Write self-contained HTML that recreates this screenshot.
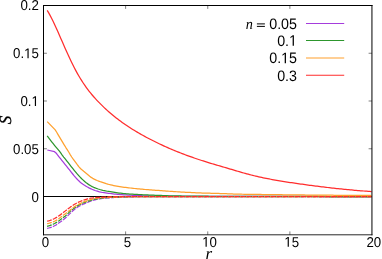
<!DOCTYPE html><html><head><title>S vs r</title><meta charset="utf-8"><style>html,body{margin:0;padding:0;background:#fff}svg{display:block;will-change:transform;opacity:0.999}text{font-family:"Liberation Sans",sans-serif;fill:#000;text-rendering:geometricPrecision}.it{font-family:"Liberation Serif",serif;font-style:italic}</style></head><body>
<svg width="382" height="259" viewBox="0 0 382 259">
<rect width="382" height="259" fill="#fff"/>
<path d="M43.5,196.5 H372.0" stroke="#000" stroke-width="1" fill="none"/>
<path d="M47.30,150.00 L54.50,151.70 L56.00,152.99 L57.50,154.97 L59.00,156.84 L60.50,158.72 L62.00,160.60 L63.50,162.45 L65.00,164.31 L66.50,166.18 L68.00,168.07 L69.50,169.97 L71.00,171.87 L72.50,173.75 L74.00,175.61 L75.50,177.38 L77.00,179.02 L78.50,180.57 L80.00,181.95 L81.50,183.20 L83.00,184.32 L84.50,185.31 L86.00,186.20 L87.50,187.05 L89.00,187.85 L90.50,188.59 L92.00,189.29 L93.50,189.92 L95.00,190.47 L96.50,190.97 L98.00,191.42 L99.50,191.85 L101.00,192.22 L102.50,192.50 L104.00,192.72 L105.50,192.93 L107.00,193.13 L108.50,193.32 L110.00,193.50 L111.50,193.67 L113.00,193.84 L114.50,194.01 L116.00,194.17 L117.50,194.32 L119.00,194.45 L120.50,194.57 L122.00,194.68 L123.50,194.79 L125.00,194.89 L126.50,194.99 L128.00,195.08 L129.50,195.17 L131.00,195.25 L132.50,195.33 L134.00,195.40 L135.50,195.47 L137.00,195.54 L138.50,195.60 L140.00,195.66 L141.50,195.72 L143.00,195.77 L144.50,195.82 L146.00,195.86 L147.50,195.91 L149.00,195.96 L150.50,196.01 L152.00,196.05 L153.50,196.09 L155.00,196.12 L156.50,196.16 L158.00,196.18 L159.50,196.20 L161.00,196.21 L162.50,196.22 L164.00,196.22 L165.50,196.23 L167.00,196.24 L168.50,196.24 L170.00,196.25 L171.50,196.25 L173.00,196.26 L174.50,196.26 L176.00,196.26 L177.50,196.27 L179.00,196.27 L180.50,196.28 L182.00,196.28 L183.50,196.29 L185.00,196.29 L186.50,196.30 L188.00,196.30 L189.50,196.31 L191.00,196.31 L192.50,196.32 L194.00,196.32 L195.50,196.33 L197.00,196.33 L198.50,196.34 L200.00,196.34 L201.50,196.34 L203.00,196.35 L204.50,196.35 L206.00,196.36 L207.50,196.36 L209.00,196.36 L210.50,196.37 L212.00,196.37 L213.50,196.37 L215.00,196.38 L216.50,196.38 L218.00,196.39 L219.50,196.39 L221.00,196.39 L222.50,196.40 L224.00,196.40 L225.50,196.40 L227.00,196.40 L228.50,196.41 L230.00,196.41 L231.50,196.41 L233.00,196.42 L234.50,196.42 L236.00,196.42 L237.50,196.42 L239.00,196.43 L240.50,196.43 L242.00,196.43 L243.50,196.43 L245.00,196.44 L246.50,196.44 L248.00,196.44 L249.50,196.44 L251.00,196.44 L252.50,196.45 L254.00,196.45 L255.50,196.45 L257.00,196.45 L258.50,196.45 L260.00,196.46 L261.50,196.46 L263.00,196.46 L264.50,196.46 L266.00,196.46 L267.50,196.46 L269.00,196.47 L270.50,196.47 L272.00,196.47 L273.50,196.47 L275.00,196.47 L276.50,196.47 L278.00,196.47 L279.50,196.48 L281.00,196.48 L282.50,196.48 L284.00,196.48 L285.50,196.48 L287.00,196.48 L288.50,196.48 L290.00,196.48 L291.50,196.48 L293.00,196.48 L294.50,196.49 L296.00,196.49 L297.50,196.49 L299.00,196.49 L300.50,196.49 L302.00,196.49 L303.50,196.49 L305.00,196.49 L306.50,196.49 L308.00,196.49 L309.50,196.49 L311.00,196.49 L312.50,196.49 L314.00,196.49 L315.50,196.49 L317.00,196.49 L318.50,196.50 L320.00,196.50 L321.50,196.50 L323.00,196.50 L324.50,196.50 L326.00,196.50 L327.50,196.50 L329.00,196.50 L330.50,196.50 L332.00,196.50 L333.50,196.50 L335.00,196.50 L336.50,196.50 L338.00,196.50 L339.50,196.50 L341.00,196.50 L342.50,196.50 L344.00,196.50 L345.50,196.50 L347.00,196.50 L348.50,196.50 L350.00,196.50 L351.50,196.50 L353.00,196.50 L354.50,196.50 L356.00,196.50 L357.50,196.50 L359.00,196.50 L360.50,196.50 L362.00,196.50 L363.50,196.50 L365.00,196.50 L366.50,196.50 L368.00,196.50 L369.50,196.50 L371.00,196.50 L371.60,196.50" stroke="#a53cdc" stroke-width="1.25" fill="none" stroke-linejoin="round"/>
<path d="M47.10,228.40 L48.60,228.01 L50.10,227.55 L51.60,227.04 L53.10,226.47 L54.60,225.80 L56.10,224.94 L57.60,223.89 L59.10,222.85 L60.60,221.81 L62.10,220.72 L63.60,219.53 L65.10,218.24 L66.60,216.87 L68.10,215.42 L69.60,213.89 L71.10,212.42 L72.60,210.98 L74.10,209.69 L75.60,208.54 L77.10,207.49 L78.60,206.56 L80.10,205.72 L81.60,204.95 L83.10,204.28 L84.60,203.65 L86.10,203.01 L87.60,202.36 L89.10,201.73 L90.60,201.17 L92.10,200.65 L93.60,200.20 L95.10,199.81 L96.60,199.47 L98.10,199.16 L99.60,198.87 L101.10,198.63 L102.60,198.44 L104.10,198.28 L105.60,198.14 L107.10,198.00 L108.60,197.87 L110.10,197.74 L111.60,197.62 L113.10,197.51 L114.60,197.42 L116.10,197.34 L117.60,197.27 L119.10,197.20 L120.60,197.14 L122.10,197.08 L123.60,197.02 L125.10,196.97 L126.60,196.93 L128.10,196.89 L129.60,196.86 L131.10,196.83 L132.60,196.80 L134.10,196.77 L135.60,196.75 L137.10,196.73 L138.60,196.70 L140.10,196.68 L141.60,196.66 L143.10,196.65 L144.60,196.63 L146.10,196.62 L147.60,196.61 L149.10,196.60 L150.60,196.60 L152.10,196.60 L153.60,196.59 L155.10,196.59 L156.60,196.59 L158.10,196.59 L159.60,196.59 L161.10,196.58 L162.60,196.58 L164.10,196.58 L165.60,196.58 L167.10,196.58 L168.60,196.58 L170.10,196.58 L171.60,196.57 L173.10,196.57 L174.60,196.57 L176.10,196.57 L177.60,196.57 L179.10,196.57 L180.60,196.56 L182.10,196.56 L183.60,196.56 L185.10,196.56 L186.60,196.56 L188.10,196.56 L189.60,196.56 L191.10,196.55 L192.60,196.55 L194.10,196.55 L195.60,196.55 L197.10,196.55 L198.60,196.55 L200.10,196.55 L201.60,196.55 L203.10,196.54 L204.60,196.54 L206.10,196.54 L207.60,196.54 L209.10,196.54 L210.60,196.54 L212.10,196.54 L213.60,196.54 L215.10,196.54 L216.60,196.53 L218.10,196.53 L219.60,196.53 L221.10,196.53 L222.60,196.53 L224.10,196.53 L225.60,196.53 L227.10,196.53 L228.60,196.53 L230.10,196.53 L231.60,196.53 L233.10,196.52 L234.60,196.52 L236.10,196.52 L237.60,196.52 L239.10,196.52 L240.60,196.52 L242.10,196.52 L243.60,196.52 L245.10,196.52 L246.60,196.52 L248.10,196.52 L249.60,196.52 L251.10,196.52 L252.60,196.52 L254.10,196.51 L255.60,196.51 L257.10,196.51 L258.60,196.51 L260.10,196.51 L261.60,196.51 L263.10,196.51 L264.60,196.51 L266.10,196.51 L267.60,196.51 L269.10,196.51 L270.60,196.51 L272.10,196.51 L273.60,196.51 L275.10,196.51 L276.60,196.51 L278.10,196.51 L279.60,196.51 L281.10,196.51 L282.60,196.51 L284.10,196.51 L285.60,196.51 L287.10,196.51 L288.60,196.51 L290.10,196.50 L291.60,196.50 L293.10,196.50 L294.60,196.50 L296.10,196.50 L297.60,196.50 L299.10,196.50 L300.60,196.50 L302.10,196.50 L303.60,196.50 L305.10,196.50 L306.60,196.50 L308.10,196.50 L309.60,196.50 L311.10,196.50 L312.60,196.50 L314.10,196.50 L315.60,196.50 L317.10,196.50 L318.60,196.50 L320.10,196.50 L321.60,196.50 L323.10,196.50 L324.60,196.50 L326.10,196.50 L327.60,196.50 L329.10,196.50 L330.60,196.50 L332.10,196.50 L333.60,196.50 L335.10,196.50 L336.60,196.50 L338.10,196.50 L339.60,196.50 L341.10,196.50 L342.60,196.50 L344.10,196.50 L345.60,196.50 L347.10,196.50 L348.60,196.50 L350.10,196.50 L351.60,196.50 L353.10,196.50 L354.60,196.50 L356.10,196.50 L357.60,196.50 L359.10,196.50 L360.60,196.50 L362.10,196.50 L363.60,196.50 L365.10,196.50 L366.60,196.50 L368.10,196.50 L369.60,196.50 L371.10,196.50 L371.60,196.50" stroke="#a53cdc" stroke-width="1.25" fill="none" stroke-dasharray="4.85,1.2"/>
<path d="M47.20,135.90 L48.70,137.90 L50.20,139.86 L51.70,141.79 L53.20,143.70 L54.70,145.56 L56.20,147.34 L57.70,149.11 L59.20,150.93 L60.70,152.92 L62.20,155.04 L63.70,157.05 L65.20,158.94 L66.70,160.82 L68.20,162.72 L69.70,164.63 L71.20,166.53 L72.70,168.43 L74.20,170.30 L75.70,172.12 L77.20,173.89 L78.70,175.58 L80.20,177.20 L81.70,178.70 L83.20,180.12 L84.70,181.50 L86.20,182.76 L87.70,183.87 L89.20,184.87 L90.70,185.77 L92.20,186.58 L93.70,187.30 L95.20,187.92 L96.70,188.48 L98.20,189.01 L99.70,189.50 L101.20,189.95 L102.70,190.33 L104.20,190.67 L105.70,190.98 L107.20,191.25 L108.70,191.49 L110.20,191.73 L111.70,191.97 L113.20,192.21 L114.70,192.44 L116.20,192.66 L117.70,192.87 L119.20,193.05 L120.70,193.22 L122.20,193.38 L123.70,193.53 L125.20,193.67 L126.70,193.80 L128.20,193.93 L129.70,194.04 L131.20,194.15 L132.70,194.24 L134.20,194.33 L135.70,194.41 L137.20,194.49 L138.70,194.56 L140.20,194.63 L141.70,194.70 L143.20,194.76 L144.70,194.83 L146.20,194.90 L147.70,194.97 L149.20,195.03 L150.70,195.09 L152.20,195.15 L153.70,195.21 L155.20,195.27 L156.70,195.33 L158.20,195.38 L159.70,195.44 L161.20,195.49 L162.70,195.55 L164.20,195.60 L165.70,195.65 L167.20,195.70 L168.70,195.75 L170.20,195.79 L171.70,195.83 L173.20,195.86 L174.70,195.89 L176.20,195.92 L177.70,195.95 L179.20,195.97 L180.70,195.99 L182.20,196.02 L183.70,196.04 L185.20,196.06 L186.70,196.08 L188.20,196.09 L189.70,196.11 L191.20,196.13 L192.70,196.14 L194.20,196.15 L195.70,196.17 L197.20,196.18 L198.70,196.19 L200.20,196.20 L201.70,196.21 L203.20,196.22 L204.70,196.23 L206.20,196.24 L207.70,196.24 L209.20,196.25 L210.70,196.26 L212.20,196.26 L213.70,196.27 L215.20,196.27 L216.70,196.28 L218.20,196.29 L219.70,196.29 L221.20,196.30 L222.70,196.30 L224.20,196.31 L225.70,196.32 L227.20,196.32 L228.70,196.33 L230.20,196.33 L231.70,196.34 L233.20,196.34 L234.70,196.35 L236.20,196.35 L237.70,196.36 L239.20,196.36 L240.70,196.37 L242.20,196.37 L243.70,196.38 L245.20,196.38 L246.70,196.38 L248.20,196.39 L249.70,196.39 L251.20,196.40 L252.70,196.40 L254.20,196.40 L255.70,196.41 L257.20,196.41 L258.70,196.41 L260.20,196.42 L261.70,196.42 L263.20,196.42 L264.70,196.43 L266.20,196.43 L267.70,196.43 L269.20,196.44 L270.70,196.44 L272.20,196.44 L273.70,196.44 L275.20,196.45 L276.70,196.45 L278.20,196.45 L279.70,196.45 L281.20,196.46 L282.70,196.46 L284.20,196.46 L285.70,196.46 L287.20,196.46 L288.70,196.47 L290.20,196.47 L291.70,196.47 L293.20,196.47 L294.70,196.47 L296.20,196.47 L297.70,196.48 L299.20,196.48 L300.70,196.48 L302.20,196.48 L303.70,196.48 L305.20,196.48 L306.70,196.48 L308.20,196.48 L309.70,196.49 L311.20,196.49 L312.70,196.49 L314.20,196.49 L315.70,196.49 L317.20,196.49 L318.70,196.49 L320.20,196.49 L321.70,196.49 L323.20,196.49 L324.70,196.49 L326.20,196.49 L327.70,196.50 L329.20,196.50 L330.70,196.50 L332.20,196.50 L333.70,196.50 L335.20,196.50 L336.70,196.50 L338.20,196.50 L339.70,196.50 L341.20,196.50 L342.70,196.50 L344.20,196.50 L345.70,196.50 L347.20,196.50 L348.70,196.50 L350.20,196.50 L351.70,196.50 L353.20,196.50 L354.70,196.50 L356.20,196.50 L357.70,196.50 L359.20,196.50 L360.70,196.50 L362.20,196.50 L363.70,196.50 L365.20,196.50 L366.70,196.50 L368.20,196.50 L369.70,196.50 L371.20,196.50 L371.60,196.50" stroke="#2d962d" stroke-width="1.25" fill="none" stroke-linejoin="round"/>
<path d="M47.10,226.30 L48.60,225.88 L50.10,225.39 L51.60,224.84 L53.10,224.22 L54.60,223.51 L56.10,222.66 L57.60,221.67 L59.10,220.66 L60.60,219.60 L62.10,218.50 L63.60,217.36 L65.10,216.17 L66.60,214.85 L68.10,213.35 L69.60,211.89 L71.10,210.59 L72.60,209.37 L74.10,208.22 L75.60,207.11 L77.10,206.09 L78.60,205.19 L80.10,204.38 L81.60,203.66 L83.10,203.02 L84.60,202.43 L86.10,201.86 L87.60,201.31 L89.10,200.79 L90.60,200.32 L92.10,199.89 L93.60,199.50 L95.10,199.16 L96.60,198.85 L98.10,198.58 L99.60,198.33 L101.10,198.12 L102.60,197.97 L104.10,197.84 L105.60,197.73 L107.10,197.63 L108.60,197.53 L110.10,197.44 L111.60,197.36 L113.10,197.28 L114.60,197.22 L116.10,197.16 L117.60,197.10 L119.10,197.04 L120.60,196.98 L122.10,196.92 L123.60,196.87 L125.10,196.83 L126.60,196.80 L128.10,196.77 L129.60,196.75 L131.10,196.74 L132.60,196.74 L134.10,196.73 L135.60,196.73 L137.10,196.72 L138.60,196.72 L140.10,196.72 L141.60,196.71 L143.10,196.71 L144.60,196.71 L146.10,196.70 L147.60,196.70 L149.10,196.70 L150.60,196.69 L152.10,196.69 L153.60,196.68 L155.10,196.68 L156.60,196.68 L158.10,196.67 L159.60,196.67 L161.10,196.67 L162.60,196.66 L164.10,196.66 L165.60,196.65 L167.10,196.65 L168.60,196.65 L170.10,196.65 L171.60,196.64 L173.10,196.64 L174.60,196.64 L176.10,196.63 L177.60,196.63 L179.10,196.63 L180.60,196.62 L182.10,196.62 L183.60,196.62 L185.10,196.61 L186.60,196.61 L188.10,196.61 L189.60,196.61 L191.10,196.60 L192.60,196.60 L194.10,196.60 L195.60,196.60 L197.10,196.59 L198.60,196.59 L200.10,196.59 L201.60,196.59 L203.10,196.58 L204.60,196.58 L206.10,196.58 L207.60,196.58 L209.10,196.58 L210.60,196.57 L212.10,196.57 L213.60,196.57 L215.10,196.57 L216.60,196.57 L218.10,196.56 L219.60,196.56 L221.10,196.56 L222.60,196.56 L224.10,196.56 L225.60,196.56 L227.10,196.55 L228.60,196.55 L230.10,196.55 L231.60,196.55 L233.10,196.55 L234.60,196.55 L236.10,196.54 L237.60,196.54 L239.10,196.54 L240.60,196.54 L242.10,196.54 L243.60,196.54 L245.10,196.54 L246.60,196.53 L248.10,196.53 L249.60,196.53 L251.10,196.53 L252.60,196.53 L254.10,196.53 L255.60,196.53 L257.10,196.53 L258.60,196.53 L260.10,196.52 L261.60,196.52 L263.10,196.52 L264.60,196.52 L266.10,196.52 L267.60,196.52 L269.10,196.52 L270.60,196.52 L272.10,196.52 L273.60,196.52 L275.10,196.52 L276.60,196.52 L278.10,196.51 L279.60,196.51 L281.10,196.51 L282.60,196.51 L284.10,196.51 L285.60,196.51 L287.10,196.51 L288.60,196.51 L290.10,196.51 L291.60,196.51 L293.10,196.51 L294.60,196.51 L296.10,196.51 L297.60,196.51 L299.10,196.51 L300.60,196.51 L302.10,196.51 L303.60,196.51 L305.10,196.51 L306.60,196.50 L308.10,196.50 L309.60,196.50 L311.10,196.50 L312.60,196.50 L314.10,196.50 L315.60,196.50 L317.10,196.50 L318.60,196.50 L320.10,196.50 L321.60,196.50 L323.10,196.50 L324.60,196.50 L326.10,196.50 L327.60,196.50 L329.10,196.50 L330.60,196.50 L332.10,196.50 L333.60,196.50 L335.10,196.50 L336.60,196.50 L338.10,196.50 L339.60,196.50 L341.10,196.50 L342.60,196.50 L344.10,196.50 L345.60,196.50 L347.10,196.50 L348.60,196.50 L350.10,196.50 L351.60,196.50 L353.10,196.50 L354.60,196.50 L356.10,196.50 L357.60,196.50 L359.10,196.50 L360.60,196.50 L362.10,196.50 L363.60,196.50 L365.10,196.50 L366.60,196.50 L368.10,196.50 L369.60,196.50 L371.10,196.50 L371.60,196.50" stroke="#2d962d" stroke-width="1.25" fill="none" stroke-dasharray="4.85,1.2"/>
<path d="M47.20,121.60 L55.20,129.90 L56.70,132.22 L58.20,134.85 L59.70,137.36 L61.20,139.87 L62.70,142.38 L64.20,144.90 L65.70,147.29 L67.20,149.55 L68.70,151.97 L70.20,154.60 L71.70,156.99 L73.20,159.17 L74.70,161.23 L76.20,163.24 L77.70,165.25 L79.20,167.11 L80.70,168.71 L82.20,170.08 L83.70,171.35 L85.20,172.56 L86.70,173.73 L88.20,174.94 L89.70,176.23 L91.20,177.40 L92.70,178.34 L94.20,179.15 L95.70,179.88 L97.20,180.53 L98.70,181.13 L100.20,181.67 L101.70,182.17 L103.20,182.67 L104.70,183.18 L106.20,183.68 L107.70,184.12 L109.20,184.50 L110.70,184.86 L112.20,185.20 L113.70,185.52 L115.20,185.82 L116.70,186.11 L118.20,186.37 L119.70,186.62 L121.20,186.85 L122.70,187.06 L124.20,187.27 L125.70,187.46 L127.20,187.64 L128.70,187.82 L130.20,188.00 L131.70,188.17 L133.20,188.33 L134.70,188.50 L136.20,188.66 L137.70,188.81 L139.20,188.96 L140.70,189.10 L142.20,189.24 L143.70,189.37 L145.20,189.50 L146.70,189.62 L148.20,189.74 L149.70,189.85 L151.20,189.96 L152.70,190.07 L154.20,190.17 L155.70,190.28 L157.20,190.39 L158.70,190.49 L160.20,190.60 L161.70,190.71 L163.20,190.82 L164.70,190.93 L166.20,191.04 L167.70,191.14 L169.20,191.25 L170.70,191.35 L172.20,191.45 L173.70,191.55 L175.20,191.65 L176.70,191.75 L178.20,191.84 L179.70,191.93 L181.20,192.01 L182.70,192.09 L184.20,192.18 L185.70,192.26 L187.20,192.34 L188.70,192.41 L190.20,192.49 L191.70,192.56 L193.20,192.64 L194.70,192.71 L196.20,192.77 L197.70,192.84 L199.20,192.90 L200.70,192.96 L202.20,193.01 L203.70,193.06 L205.20,193.11 L206.70,193.16 L208.20,193.20 L209.70,193.24 L211.20,193.28 L212.70,193.32 L214.20,193.36 L215.70,193.40 L217.20,193.44 L218.70,193.48 L220.20,193.52 L221.70,193.57 L223.20,193.61 L224.70,193.66 L226.20,193.72 L227.70,193.78 L229.20,193.84 L230.70,193.90 L232.20,193.96 L233.70,194.01 L235.20,194.07 L236.70,194.12 L238.20,194.16 L239.70,194.19 L241.20,194.22 L242.70,194.25 L244.20,194.28 L245.70,194.30 L247.20,194.33 L248.70,194.35 L250.20,194.37 L251.70,194.39 L253.20,194.41 L254.70,194.43 L256.20,194.44 L257.70,194.46 L259.20,194.48 L260.70,194.49 L262.20,194.51 L263.70,194.53 L265.20,194.54 L266.70,194.56 L268.20,194.58 L269.70,194.60 L271.20,194.61 L272.70,194.63 L274.20,194.65 L275.70,194.67 L277.20,194.69 L278.70,194.71 L280.20,194.73 L281.70,194.74 L283.20,194.76 L284.70,194.78 L286.20,194.80 L287.70,194.82 L289.20,194.83 L290.70,194.85 L292.20,194.87 L293.70,194.88 L295.20,194.90 L296.70,194.92 L298.20,194.93 L299.70,194.95 L301.20,194.96 L302.70,194.98 L304.20,194.99 L305.70,195.01 L307.20,195.02 L308.70,195.04 L310.20,195.05 L311.70,195.06 L313.20,195.08 L314.70,195.09 L316.20,195.10 L317.70,195.12 L319.20,195.13 L320.70,195.14 L322.20,195.16 L323.70,195.17 L325.20,195.18 L326.70,195.20 L328.20,195.21 L329.70,195.22 L331.20,195.23 L332.70,195.24 L334.20,195.26 L335.70,195.27 L337.20,195.28 L338.70,195.29 L340.20,195.30 L341.70,195.31 L343.20,195.32 L344.70,195.33 L346.20,195.34 L347.70,195.35 L349.20,195.36 L350.70,195.37 L352.20,195.38 L353.70,195.39 L355.20,195.40 L356.70,195.41 L358.20,195.42 L359.70,195.43 L361.20,195.44 L362.70,195.45 L364.20,195.46 L365.70,195.47 L367.20,195.48 L368.70,195.48 L370.20,195.49 L371.60,195.50" stroke="#ffa02d" stroke-width="1.25" fill="none" stroke-linejoin="round"/>
<path d="M47.10,223.60 L48.60,223.30 L50.10,222.90 L51.60,222.43 L53.10,221.88 L54.60,221.20 L56.10,220.40 L57.60,219.46 L59.10,218.45 L60.60,217.35 L62.10,216.21 L63.60,215.06 L65.10,213.90 L66.60,212.74 L68.10,211.61 L69.60,210.48 L71.10,209.30 L72.60,208.13 L74.10,207.06 L75.60,206.08 L77.10,205.17 L78.60,204.34 L80.10,203.57 L81.60,202.87 L83.10,202.23 L84.60,201.63 L86.10,201.06 L87.60,200.50 L89.10,199.99 L90.60,199.54 L92.10,199.15 L93.60,198.80 L95.10,198.49 L96.60,198.22 L98.10,198.01 L99.60,197.85 L101.10,197.72 L102.60,197.60 L104.10,197.51 L105.60,197.42 L107.10,197.34 L108.60,197.26 L110.10,197.19 L111.60,197.12 L113.10,197.06 L114.60,197.01 L116.10,196.97 L117.60,196.93 L119.10,196.89 L120.60,196.85 L122.10,196.81 L123.60,196.78 L125.10,196.75 L126.60,196.73 L128.10,196.71 L129.60,196.70 L131.10,196.70 L132.60,196.69 L134.10,196.69 L135.60,196.68 L137.10,196.68 L138.60,196.68 L140.10,196.67 L141.60,196.67 L143.10,196.67 L144.60,196.66 L146.10,196.66 L147.60,196.66 L149.10,196.66 L150.60,196.65 L152.10,196.65 L153.60,196.65 L155.10,196.64 L156.60,196.64 L158.10,196.64 L159.60,196.64 L161.10,196.63 L162.60,196.63 L164.10,196.63 L165.60,196.62 L167.10,196.62 L168.60,196.62 L170.10,196.62 L171.60,196.61 L173.10,196.61 L174.60,196.61 L176.10,196.61 L177.60,196.60 L179.10,196.60 L180.60,196.60 L182.10,196.60 L183.60,196.59 L185.10,196.59 L186.60,196.59 L188.10,196.59 L189.60,196.59 L191.10,196.58 L192.60,196.58 L194.10,196.58 L195.60,196.58 L197.10,196.58 L198.60,196.57 L200.10,196.57 L201.60,196.57 L203.10,196.57 L204.60,196.57 L206.10,196.56 L207.60,196.56 L209.10,196.56 L210.60,196.56 L212.10,196.56 L213.60,196.56 L215.10,196.55 L216.60,196.55 L218.10,196.55 L219.60,196.55 L221.10,196.55 L222.60,196.55 L224.10,196.55 L225.60,196.54 L227.10,196.54 L228.60,196.54 L230.10,196.54 L231.60,196.54 L233.10,196.54 L234.60,196.54 L236.10,196.54 L237.60,196.53 L239.10,196.53 L240.60,196.53 L242.10,196.53 L243.60,196.53 L245.10,196.53 L246.60,196.53 L248.10,196.53 L249.60,196.53 L251.10,196.52 L252.60,196.52 L254.10,196.52 L255.60,196.52 L257.10,196.52 L258.60,196.52 L260.10,196.52 L261.60,196.52 L263.10,196.52 L264.60,196.52 L266.10,196.52 L267.60,196.52 L269.10,196.52 L270.60,196.51 L272.10,196.51 L273.60,196.51 L275.10,196.51 L276.60,196.51 L278.10,196.51 L279.60,196.51 L281.10,196.51 L282.60,196.51 L284.10,196.51 L285.60,196.51 L287.10,196.51 L288.60,196.51 L290.10,196.51 L291.60,196.51 L293.10,196.51 L294.60,196.51 L296.10,196.51 L297.60,196.51 L299.10,196.51 L300.60,196.51 L302.10,196.50 L303.60,196.50 L305.10,196.50 L306.60,196.50 L308.10,196.50 L309.60,196.50 L311.10,196.50 L312.60,196.50 L314.10,196.50 L315.60,196.50 L317.10,196.50 L318.60,196.50 L320.10,196.50 L321.60,196.50 L323.10,196.50 L324.60,196.50 L326.10,196.50 L327.60,196.50 L329.10,196.50 L330.60,196.50 L332.10,196.50 L333.60,196.50 L335.10,196.50 L336.60,196.50 L338.10,196.50 L339.60,196.50 L341.10,196.50 L342.60,196.50 L344.10,196.50 L345.60,196.50 L347.10,196.50 L348.60,196.50 L350.10,196.50 L351.60,196.50 L353.10,196.50 L354.60,196.50 L356.10,196.50 L357.60,196.50 L359.10,196.50 L360.60,196.50 L362.10,196.50 L363.60,196.50 L365.10,196.50 L366.60,196.50 L368.10,196.50 L369.60,196.50 L371.10,196.50 L371.60,196.50" stroke="#ffa02d" stroke-width="1.25" fill="none" stroke-dasharray="4.85,1.2"/>
<path d="M47.20,10.31 L48.70,12.87 L50.20,15.62 L51.70,18.52 L53.20,21.57 L54.70,24.73 L56.20,28.00 L57.70,31.34 L59.20,34.73 L60.70,38.16 L62.20,41.60 L63.70,45.03 L65.20,48.43 L66.70,51.80 L68.20,55.10 L69.70,58.34 L71.20,61.50 L72.70,64.56 L74.20,67.52 L75.70,70.38 L77.20,73.12 L78.70,75.75 L80.20,78.26 L81.70,80.67 L83.20,82.98 L84.70,85.19 L86.20,87.31 L87.70,89.34 L89.20,91.30 L90.70,93.18 L92.20,94.99 L93.70,96.74 L95.20,98.42 L96.70,100.05 L98.20,101.64 L99.70,103.18 L101.20,104.68 L102.70,106.15 L104.20,107.58 L105.70,108.99 L107.20,110.36 L108.70,111.70 L110.20,113.00 L111.70,114.28 L113.20,115.53 L114.70,116.75 L116.20,117.94 L117.70,119.11 L119.20,120.24 L120.70,121.35 L122.20,122.43 L123.70,123.49 L125.20,124.53 L126.70,125.54 L128.20,126.54 L129.70,127.51 L131.20,128.47 L132.70,129.41 L134.20,130.33 L135.70,131.24 L137.20,132.13 L138.70,133.01 L140.20,133.87 L141.70,134.71 L143.20,135.55 L144.70,136.37 L146.20,137.18 L147.70,137.98 L149.20,138.77 L150.70,139.54 L152.20,140.31 L153.70,141.06 L155.20,141.81 L156.70,142.55 L158.20,143.27 L159.70,143.99 L161.20,144.69 L162.70,145.39 L164.20,146.07 L165.70,146.75 L167.20,147.42 L168.70,148.07 L170.20,148.72 L171.70,149.36 L173.20,149.99 L174.70,150.62 L176.20,151.23 L177.70,151.84 L179.20,152.43 L180.70,153.02 L182.20,153.60 L183.70,154.18 L185.20,154.74 L186.70,155.30 L188.20,155.85 L189.70,156.39 L191.20,156.93 L192.70,157.46 L194.20,157.98 L195.70,158.49 L197.20,159.00 L198.70,159.50 L200.20,159.99 L201.70,160.48 L203.20,160.96 L204.70,161.44 L206.20,161.91 L207.70,162.37 L209.20,162.83 L210.70,163.29 L212.20,163.74 L213.70,164.19 L215.20,164.63 L216.70,165.08 L218.20,165.52 L219.70,165.96 L221.20,166.40 L222.70,166.84 L224.20,167.27 L225.70,167.71 L227.20,168.15 L228.70,168.59 L230.20,169.03 L231.70,169.47 L233.20,169.92 L234.70,170.36 L236.20,170.81 L237.70,171.25 L239.20,171.69 L240.70,172.13 L242.20,172.56 L243.70,172.98 L245.20,173.40 L246.70,173.82 L248.20,174.22 L249.70,174.62 L251.20,175.00 L252.70,175.38 L254.20,175.75 L255.70,176.11 L257.20,176.46 L258.70,176.80 L260.20,177.13 L261.70,177.46 L263.20,177.78 L264.70,178.09 L266.20,178.39 L267.70,178.69 L269.20,178.98 L270.70,179.26 L272.20,179.54 L273.70,179.82 L275.20,180.08 L276.70,180.35 L278.20,180.60 L279.70,180.86 L281.20,181.10 L282.70,181.35 L284.20,181.59 L285.70,181.82 L287.20,182.05 L288.70,182.28 L290.20,182.51 L291.70,182.73 L293.20,182.95 L294.70,183.17 L296.20,183.39 L297.70,183.60 L299.20,183.82 L300.70,184.03 L302.20,184.24 L303.70,184.45 L305.20,184.65 L306.70,184.86 L308.20,185.06 L309.70,185.26 L311.20,185.46 L312.70,185.65 L314.20,185.85 L315.70,186.04 L317.20,186.23 L318.70,186.42 L320.20,186.60 L321.70,186.79 L323.20,186.97 L324.70,187.15 L326.20,187.33 L327.70,187.50 L329.20,187.68 L330.70,187.85 L332.20,188.01 L333.70,188.18 L335.20,188.35 L336.70,188.51 L338.20,188.67 L339.70,188.82 L341.20,188.98 L342.70,189.13 L344.20,189.28 L345.70,189.43 L347.20,189.57 L348.70,189.71 L350.20,189.85 L351.70,189.99 L353.20,190.13 L354.70,190.26 L356.20,190.39 L357.70,190.51 L359.20,190.64 L360.70,190.76 L362.20,190.88 L363.70,191.00 L365.20,191.11 L366.70,191.22 L368.20,191.33 L369.70,191.43 L371.20,191.53 L371.60,191.56" stroke="#ff2d2d" stroke-width="1.25" fill="none" stroke-linejoin="round"/>
<path d="M47.10,221.10 L48.60,220.77 L50.10,220.34 L51.60,219.84 L53.10,219.24 L54.60,218.51 L56.10,217.66 L57.60,216.67 L59.10,215.66 L60.60,214.62 L62.10,213.53 L63.60,212.35 L65.10,211.13 L66.60,209.95 L68.10,208.80 L69.60,207.67 L71.10,206.59 L72.60,205.55 L74.10,204.59 L75.60,203.68 L77.10,202.85 L78.60,202.13 L80.10,201.48 L81.60,200.88 L83.10,200.33 L84.60,199.81 L86.10,199.34 L87.60,198.91 L89.10,198.53 L90.60,198.24 L92.10,198.00 L93.60,197.80 L95.10,197.62 L96.60,197.46 L98.10,197.35 L99.60,197.27 L101.10,197.21 L102.60,197.15 L104.10,197.11 L105.60,197.06 L107.10,197.02 L108.60,196.97 L110.10,196.92 L111.60,196.88 L113.10,196.84 L114.60,196.81 L116.10,196.78 L117.60,196.76 L119.10,196.74 L120.60,196.72 L122.10,196.71 L123.60,196.69 L125.10,196.68 L126.60,196.67 L128.10,196.66 L129.60,196.65 L131.10,196.65 L132.60,196.64 L134.10,196.64 L135.60,196.64 L137.10,196.63 L138.60,196.63 L140.10,196.63 L141.60,196.63 L143.10,196.63 L144.60,196.62 L146.10,196.62 L147.60,196.62 L149.10,196.62 L150.60,196.61 L152.10,196.61 L153.60,196.61 L155.10,196.61 L156.60,196.61 L158.10,196.60 L159.60,196.60 L161.10,196.60 L162.60,196.60 L164.10,196.60 L165.60,196.59 L167.10,196.59 L168.60,196.59 L170.10,196.59 L171.60,196.59 L173.10,196.58 L174.60,196.58 L176.10,196.58 L177.60,196.58 L179.10,196.58 L180.60,196.57 L182.10,196.57 L183.60,196.57 L185.10,196.57 L186.60,196.57 L188.10,196.57 L189.60,196.56 L191.10,196.56 L192.60,196.56 L194.10,196.56 L195.60,196.56 L197.10,196.56 L198.60,196.56 L200.10,196.55 L201.60,196.55 L203.10,196.55 L204.60,196.55 L206.10,196.55 L207.60,196.55 L209.10,196.55 L210.60,196.54 L212.10,196.54 L213.60,196.54 L215.10,196.54 L216.60,196.54 L218.10,196.54 L219.60,196.54 L221.10,196.54 L222.60,196.54 L224.10,196.53 L225.60,196.53 L227.10,196.53 L228.60,196.53 L230.10,196.53 L231.60,196.53 L233.10,196.53 L234.60,196.53 L236.10,196.53 L237.60,196.53 L239.10,196.52 L240.60,196.52 L242.10,196.52 L243.60,196.52 L245.10,196.52 L246.60,196.52 L248.10,196.52 L249.60,196.52 L251.10,196.52 L252.60,196.52 L254.10,196.52 L255.60,196.52 L257.10,196.52 L258.60,196.52 L260.10,196.51 L261.60,196.51 L263.10,196.51 L264.60,196.51 L266.10,196.51 L267.60,196.51 L269.10,196.51 L270.60,196.51 L272.10,196.51 L273.60,196.51 L275.10,196.51 L276.60,196.51 L278.10,196.51 L279.60,196.51 L281.10,196.51 L282.60,196.51 L284.10,196.51 L285.60,196.51 L287.10,196.51 L288.60,196.51 L290.10,196.51 L291.60,196.51 L293.10,196.51 L294.60,196.50 L296.10,196.50 L297.60,196.50 L299.10,196.50 L300.60,196.50 L302.10,196.50 L303.60,196.50 L305.10,196.50 L306.60,196.50 L308.10,196.50 L309.60,196.50 L311.10,196.50 L312.60,196.50 L314.10,196.50 L315.60,196.50 L317.10,196.50 L318.60,196.50 L320.10,196.50 L321.60,196.50 L323.10,196.50 L324.60,196.50 L326.10,196.50 L327.60,196.50 L329.10,196.50 L330.60,196.50 L332.10,196.50 L333.60,196.50 L335.10,196.50 L336.60,196.50 L338.10,196.50 L339.60,196.50 L341.10,196.50 L342.60,196.50 L344.10,196.50 L345.60,196.50 L347.10,196.50 L348.60,196.50 L350.10,196.50 L351.60,196.50 L353.10,196.50 L354.60,196.50 L356.10,196.50 L357.60,196.50 L359.10,196.50 L360.60,196.50 L362.10,196.50 L363.60,196.50 L365.10,196.50 L366.60,196.50 L368.10,196.50 L369.60,196.50 L371.10,196.50 L371.60,196.50" stroke="#ff2d2d" stroke-width="1.25" fill="none" stroke-dasharray="4.85,1.2"/>
<path d="M43.5,235.3 V5.0 M43.0,5.5 H372.5" stroke="#000" stroke-width="1" fill="none"/>
<path d="M371.95,5.0 V235.3" stroke="#000" stroke-width="1" fill="none"/>
<path d="M43.0,234.8 H372.45" stroke="#000" stroke-width="0.85" fill="none"/>
<path d="M125.62,234.8 v-3.4 M125.62,5.5 v3.4 M207.75,234.8 v-3.4 M207.75,5.5 v3.4 M289.88,234.8 v-3.4 M289.88,5.5 v3.4 M43.5,148.75 h3.4 M372.0,148.75 h-3.4 M43.5,101.00 h3.4 M372.0,101.00 h-3.4 M43.5,53.25 h3.4 M372.0,53.25 h-3.4" stroke="#000" stroke-width="0.5" fill="none"/>
<text transform="translate(38.90,9.90) scale(0.936,1)" text-anchor="end" font-size="14.2">0.2</text>
<text transform="translate(13.03,58.25) scale(0.936,1)" font-size="14.2">0.</text><path transform="translate(24.12,58.25) scale(0.006490,-0.006934)" d="M515 0V1237L197 1010V1180L530 1409H696V0Z" fill="#000"/><text transform="translate(31.51,58.25) scale(0.936,1)" font-size="14.2">5</text>
<text transform="translate(20.42,106.00) scale(0.936,1)" font-size="14.2">0.</text><path transform="translate(31.51,106.00) scale(0.006490,-0.006934)" d="M515 0V1237L197 1010V1180L530 1409H696V0Z" fill="#000"/>
<text transform="translate(38.90,153.75) scale(0.936,1)" text-anchor="end" font-size="14.2">0.05</text>
<text transform="translate(38.90,201.50) scale(0.936,1)" text-anchor="end" font-size="14.2">0</text>
<text transform="translate(45.35,246.75) scale(0.936,1)" text-anchor="middle" font-size="14.2">0</text>
<text transform="translate(127.47,246.75) scale(0.936,1)" text-anchor="middle" font-size="14.2">5</text>
<path transform="translate(202.21,246.75) scale(0.006490,-0.006934)" d="M515 0V1237L197 1010V1180L530 1409H696V0Z" fill="#000"/><text transform="translate(209.60,246.75) scale(0.936,1)" font-size="14.2">0</text>
<path transform="translate(284.33,246.75) scale(0.006490,-0.006934)" d="M515 0V1237L197 1010V1180L530 1409H696V0Z" fill="#000"/><text transform="translate(291.73,246.75) scale(0.936,1)" font-size="14.2">5</text>
<text transform="translate(373.85,246.75) scale(0.936,1)" text-anchor="middle" font-size="14.2">20</text>
<text transform="translate(10.6,120) rotate(-90)" text-anchor="middle" font-size="17" class="it" stroke="#000" stroke-width="0.3">S</text>
<text transform="translate(208.70,258.70) scale(1,1)" text-anchor="middle" font-size="17" class="it">r</text>
<path d="M306.0,23.47 H344.2" stroke="#a53cdc" stroke-width="1.1" fill="none"/>
<text transform="translate(245.8,28.77) scale(0.94,1)" font-size="15.2" class="it">n</text>
<path d="M256.9,23.9 h8 M256.9,26.4 h8" stroke="#000" stroke-width="1" fill="none"/>
<text transform="translate(297.00,28.77) scale(0.94,1)" text-anchor="end" font-size="15.2">0.05</text>
<path d="M306.0,40.5 H344.2" stroke="#2d962d" stroke-width="1.1" fill="none"/>
<text transform="translate(277.14,45.80) scale(0.94,1)" font-size="15.2">0.</text><path transform="translate(289.05,45.80) scale(0.006977,-0.007422)" d="M515 0V1237L197 1010V1180L530 1409H696V0Z" fill="#000"/>
<path d="M306.0,57.94 H344.2" stroke="#ffa02d" stroke-width="1.1" fill="none"/>
<text transform="translate(269.19,63.24) scale(0.94,1)" font-size="15.2">0.</text><path transform="translate(281.11,63.24) scale(0.006977,-0.007422)" d="M515 0V1237L197 1010V1180L530 1409H696V0Z" fill="#000"/><text transform="translate(289.05,63.24) scale(0.94,1)" font-size="15.2">5</text>
<path d="M306.0,75.26 H344.2" stroke="#ff2d2d" stroke-width="1.1" fill="none"/>
<text transform="translate(297.00,80.56) scale(0.94,1)" text-anchor="end" font-size="15.2">0.3</text>
</svg></body></html>
